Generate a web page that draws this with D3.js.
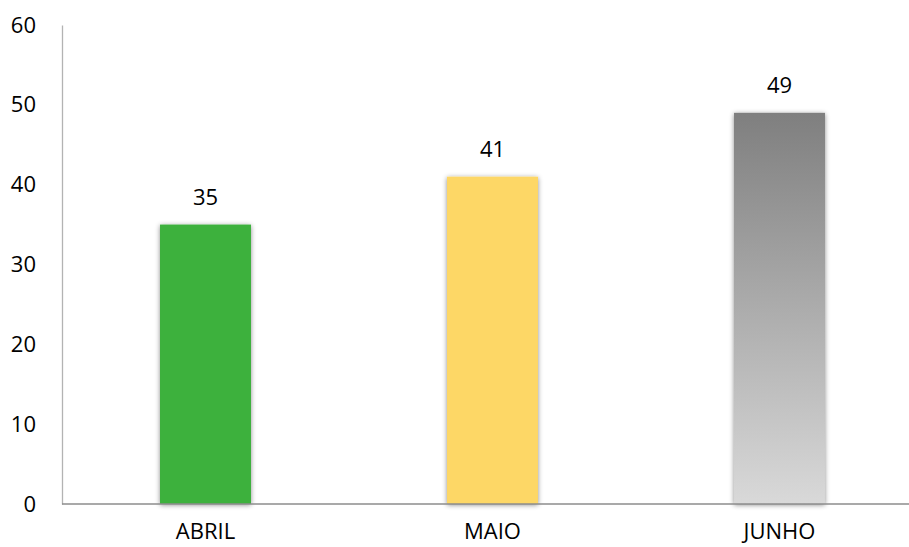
<!DOCTYPE html>
<html><head><meta charset="utf-8">
<script src="https://cdn.jsdelivr.net/npm/d3@7"></script>
<style>body{margin:0;background:#fff}svg{display:block}</style>
</head><body>
<svg id="c" width="909" height="547"></svg>
<script>
const categories = ["ABRIL", "MAIO", "JUNHO"];
const values = [35, 41, 49];
const yTicks = [0, 10, 20, 30, 40, 50, 60];

const svg = d3.select("#c");
const font = "'Open Sans', sans-serif";
const defs = svg.append("defs");
const f = defs.append("filter").attr("id","sh").attr("x","-20%").attr("y","-10%").attr("width","140%").attr("height","120%");
f.append("feDropShadow").attr("dx",0).attr("dy",1).attr("stdDeviation",2.5).attr("flood-color","#000").attr("flood-opacity",0.45);
const g = defs.append("linearGradient").attr("id","gr").attr("x1",0).attr("y1",0).attr("x2",0).attr("y2",1);
g.append("stop").attr("offset","0%").attr("stop-color","#7f7f7f");
g.append("stop").attr("offset","100%").attr("stop-color","#d9d9d9");
const fills = ["#3db13d", "#fdd766", "url(#gr)"];

const x = d3.scaleBand().domain(categories).range([62, 923]).paddingInner(0.683).paddingOuter(0.3415);
const y = d3.scaleLinear().domain([0, 60]).range([504, 25]);

// bars
svg.selectAll("rect.bar").data(categories).join("rect")
  .attr("class","bar")
  .attr("x", d => x(d)).attr("width", x.bandwidth())
  .attr("y", (d,i) => y(values[i])).attr("height", (d,i) => y(0) - y(values[i]))
  .attr("fill", (d,i) => fills[i]).attr("filter","url(#sh)");

// axes
const yAxis = svg.append("g").attr("transform","translate(62,0)")
  .call(d3.axisLeft(y).tickValues(yTicks).tickSize(0).tickPadding(26));
yAxis.select(".domain").attr("stroke","#b3b3b3").attr("stroke-width",1.3);
yAxis.selectAll("text").attr("font-family",font).attr("font-size",22).attr("fill","#000");

const xAxis = svg.append("g").attr("transform","translate(0,504)")
  .call(d3.axisBottom(x).tickSize(0));
xAxis.select(".domain").attr("d","M62,0H909").attr("stroke","#8c8c8c").attr("stroke-width",1.3);
xAxis.selectAll("text").attr("y",35).attr("dy",0)
  .attr("font-family",font).attr("font-size",22).attr("fill","#000");

// value labels
svg.selectAll("text.val").data(categories).join("text")
  .attr("class","val")
  .attr("x", d => x(d) + x.bandwidth()/2)
  .attr("y", (d,i) => y(values[i]) - 20)
  .attr("text-anchor","middle")
  .attr("font-family",font).attr("font-size",22).attr("fill","#000")
  .text((d,i) => values[i]);
</script>
</body></html>
